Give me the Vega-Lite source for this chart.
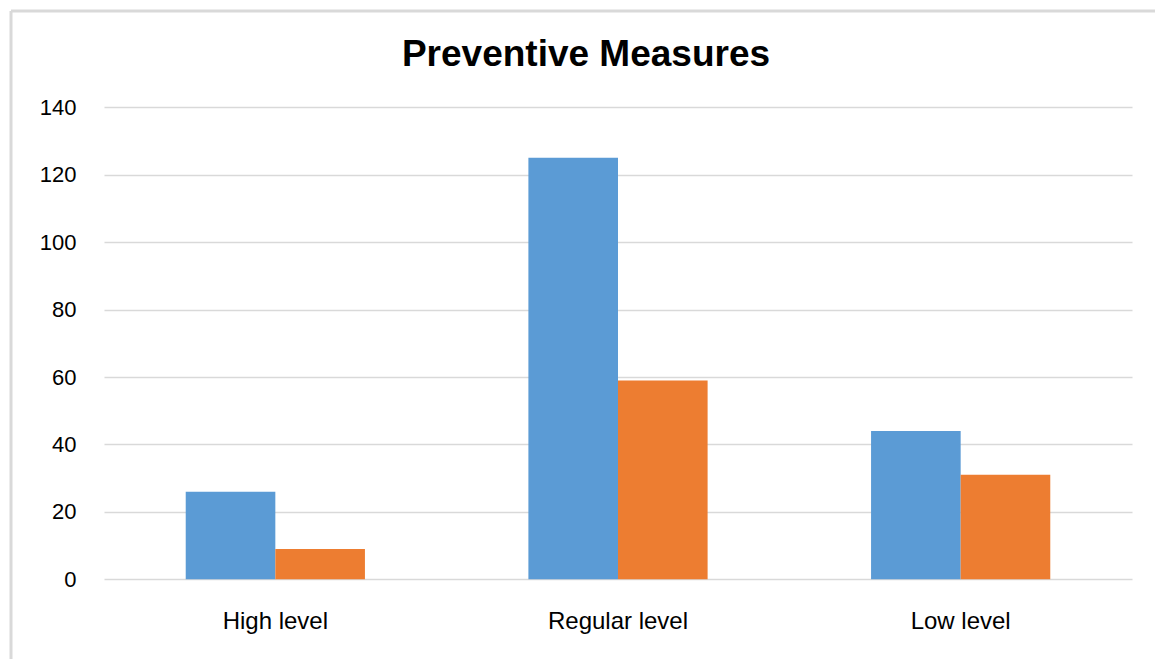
{
  "$schema": "https://vega.github.io/schema/vega-lite/v6.json",
  "width": 1144,
  "height": 648,
  "autosize": {"type": "none"},
  "padding": {"left": 11, "top": 11, "right": 0, "bottom": 0},
  "background": "white",
  "title": {
    "text": "Preventive Measures",
    "anchor": "middle",
    "frame": "group",
    "offset": -92,
    "baseline": "alphabetic",
    "dx": 3,
    "font": "Liberation Sans",
    "fontSize": 37,
    "fontWeight": "bold",
    "color": "#000000"
  },
  "data": {
    "values": [
      {"level": "High level", "series": "Series1", "count": 26},
      {"level": "High level", "series": "Series2", "count": 9},
      {"level": "Regular level", "series": "Series1", "count": 125},
      {"level": "Regular level", "series": "Series2", "count": 59},
      {"level": "Low level", "series": "Series1", "count": 44},
      {"level": "Low level", "series": "Series2", "count": 31}
    ]
  },
  "mark": {"type": "bar"},
  "encoding": {
    "x": {
      "field": "level",
      "type": "nominal",
      "sort": ["High level", "Regular level", "Low level"],
      "scale": {"range": [93, 1121], "paddingInner": 0.477, "paddingOuter": 0.2385},
      "axis": {
        "title": null,
        "orient": "bottom",
        "offset": -79.7,
        "labelPadding": 30,
        "labelAngle": 0,
        "ticks": false,
        "domain": false,
        "grid": false,
        "labelFont": "Liberation Sans",
        "labelFontSize": 24,
        "labelColor": "#000000"
      }
    },
    "xOffset": {
      "field": "series",
      "type": "nominal",
      "sort": ["Series1", "Series2"],
      "scale": {"paddingInner": 0, "paddingOuter": 0}
    },
    "y": {
      "field": "count",
      "type": "quantitative",
      "scale": {"domain": [0, 140], "range": [568.3, 96.3], "nice": false},
      "axis": {
        "title": null,
        "values": [0, 20, 40, 60, 80, 100, 120, 140],
        "offset": -93,
        "labelPadding": 28,
        "ticks": false,
        "domain": false,
        "grid": true,
        "gridColor": "#d9d9d9",
        "gridWidth": 1.5,
        "labelFont": "Liberation Sans",
        "labelFontSize": 22,
        "labelColor": "#000000"
      }
    },
    "color": {
      "field": "series",
      "type": "nominal",
      "sort": ["Series1", "Series2"],
      "scale": {"range": ["#5B9BD5", "#ED7D31"]},
      "legend": null
    }
  },
  "config": {
    "view": {"stroke": "#d9d9d9", "strokeWidth": 3, "strokeDash": [1144, 1792, 648, 0]}
  }
}
